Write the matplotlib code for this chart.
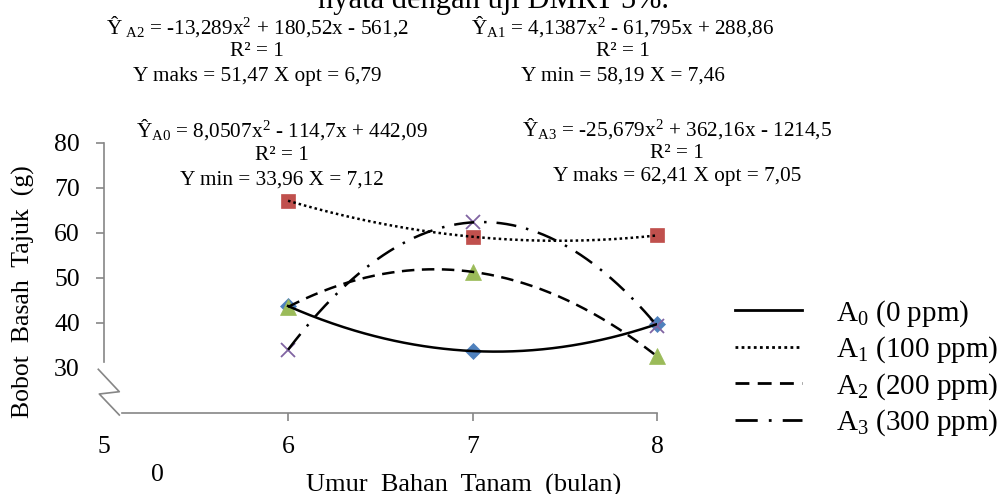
import numpy as np
import matplotlib
matplotlib.use("Agg")
import matplotlib.pyplot as plt
from matplotlib.lines import Line2D

plt.rcParams['font.family'] = ['Liberation Serif', 'DejaVu Serif']
plt.rcParams['mathtext.fontset'] = 'custom'
plt.rcParams['mathtext.rm'] = 'Liberation Serif'
plt.rcParams['mathtext.it'] = 'Liberation Serif'
plt.rcParams['mathtext.bf'] = 'Liberation Serif'

# ---- data ----
umur = [6, 7, 8]
a0 = [43.7, 33.7, 39.7]
a1 = [67.1, 59.1, 59.4]
a2 = [43.5, 51.3, 32.5]
a3 = [34.0, 62.3, 39.3]
series_labels = ["A$_0$ (0 ppm)", "A$_1$ (100 ppm)", "A$_2$ (200 ppm)", "A$_3$ (300 ppm)"]
x_ticks = [5, 6, 7, 8]
y_ticks = [30, 40, 50, 60, 70, 80]

eq_a2 = ["Ŷ$_{\\ \\mathrm{A2}}$ = -13,289x$^2$ + 180,52x - 561,2", "R² = 1", "Y maks = 51,47 X opt = 6,79"]
eq_a1 = ["Ŷ$_{\\mathrm{A1}}$ = 4,1387x$^2$ - 61,795x + 288,86", "R² = 1", "Y min = 58,19 X = 7,46"]
eq_a0 = ["Ŷ$_{\\mathrm{A0}}$ = 8,0507x$^2$ - 114,7x + 442,09", "R² = 1", "Y min = 33,96 X = 7,12"]
eq_a3 = ["Ŷ$_{\\mathrm{A3}}$ = -25,679x$^2$ + 362,16x - 1214,5", "R² = 1", "Y maks = 62,41 X opt = 7,05"]

W, H = 1002, 494
fig = plt.figure(figsize=(W / 100, H / 100), dpi=100)

def fx(px):
    return px / W

def fy(py):
    return 1 - py / H

ax = fig.add_axes([fx(103.5), fy(412.7), (657.2 - 103.5) / W, (412.7 - 142.7) / H])
ax.set_xlim(5, 8)
ax.set_ylim(20, 80)
ax.patch.set_visible(False)

gray = "#868686"
for s in ["top", "right"]:
    ax.spines[s].set_visible(False)
ax.spines["left"].set_bounds(31.3, 80)
ax.spines["bottom"].set_bounds(5.1, 8)
for s in ["left", "bottom"]:
    ax.spines[s].set_color(gray)
    ax.spines[s].set_linewidth(1.2)

ax.set_xticks(x_ticks)
ax.set_yticks(y_ticks)
ax.tick_params(axis="both", colors=gray, labelcolor="black", labelsize=18.5, width=1.2, length=6)
ax.tick_params(axis="y", pad=11)
ax.tick_params(axis="x", pad=11)
ax.xaxis.get_major_ticks()[0].tick1line.set_visible(False)
ax.yaxis.get_major_ticks()[0].tick1line.set_visible(False)

xs = np.linspace(6, 8, 300)
styles = ["-", (0, (1, 1.2)), (0, (5, 3)), (0, (8, 4, 1, 4))]
markers = [("D", "#4F81BD", 8), ("s", "#C0504D", 10), ("^", "#9BBB59", 11), ("x", "#8064A2", 10)]
handles = []
for vals, ls, (mk, col, ms), lab in zip([a0, a1, a2, a3], styles, markers, series_labels):
    ax.plot(umur, vals, linestyle="none", marker=mk, color=col, markersize=ms,
            markeredgewidth=1.3 if mk == "x" else 0.5, zorder=2, clip_on=False)
    coef = np.polyfit(umur, vals, 2)
    ax.plot(xs, np.polyval(coef, xs), color="black", linestyle=ls, linewidth=1.8, zorder=3)
    handles.append(Line2D([], [], color="black", linestyle=ls, linewidth=2.0, label=lab))

leg = fig.legend(handles=handles, loc="center left", bbox_to_anchor=(fx(735), fy(368)),
                 frameon=False, fontsize=21, handlelength=2.3, handletextpad=1.15,
                 labelspacing=0.2, borderaxespad=0, borderpad=0)

# axis break symbol
fig.add_artist(Line2D([fx(98.3), fx(119.3), fx(99.3), fx(119.3)],
                      [fy(369.3), fy(391.7), fy(394), fy(415)],
                      transform=fig.transFigure, color=gray, linewidth=1.2))

# axis labels
fig.text(fx(464), fy(492), "Umur  Bahan  Tanam  (bulan)", fontsize=19, ha="center", va="baseline")
fig.text(fx(23), fy(292), "Bobot  Basah  Tajuk  (g)", fontsize=18.5, rotation=90, ha="center", va="center")
fig.text(fx(157), fy(475), "0", fontsize=18.5, ha="center", va="center")

# cut-off heading text
fig.text(fx(318), fy(8), "nyata dengan uji DMRT 5%.", fontsize=22, ha="left", va="baseline")

# equations
def block(lines, cx, ys):
    for t, y in zip(lines, ys):
        fig.text(fx(cx), fy(y), t, fontsize=15.3, ha="center", va="center")

block(eq_a2, 257, [27, 51, 76])
block(eq_a1, 623, [27, 51, 76])
block(eq_a0, 282, [130, 155, 180])
block(eq_a3, 677, [129, 153, 177])

fig.savefig("out.png", dpi=100)
